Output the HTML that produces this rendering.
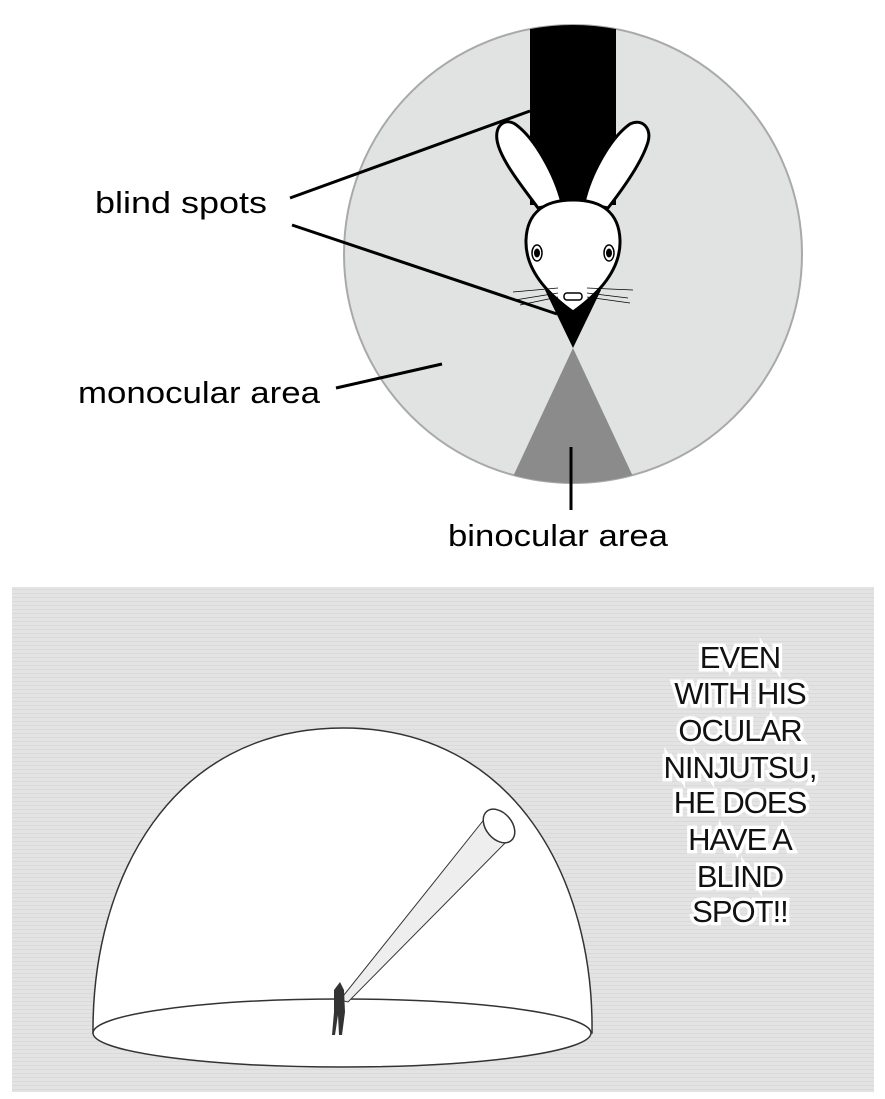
<!DOCTYPE html>
<html><head><meta charset="utf-8"><style>
html,body{margin:0;padding:0;background:#fff;}
svg{display:block;}
</style></head><body>
<svg width="885" height="1099" viewBox="0 0 885 1099" xmlns="http://www.w3.org/2000/svg">
<defs>
<clipPath id="cc"><circle cx="573" cy="254" r="229"/></clipPath>
<pattern id="noise" width="6" height="4" patternUnits="userSpaceOnUse">
<rect width="6" height="4" fill="#e3e3e3"/>
<rect x="0" y="1" width="6" height="1" fill="#dadada"/>
</pattern>
</defs>
<!-- circle diagram -->
<circle cx="573" cy="254" r="229" fill="#e1e2e2" stroke="#a9a9a9" stroke-width="2"/>
<g clip-path="url(#cc)">
<rect x="530" y="20" width="86" height="185" fill="#000"/>
<polygon points="573,348 474,560 672,560" fill="#8b8b8b"/>
</g>
<polygon points="545,290 601,290 573,348" fill="#000"/>
<!-- rabbit -->
<g stroke="#000" stroke-width="3" fill="#fff" stroke-linejoin="round">
<path d="M538,208 C525,190 500,160 497,140 C495,125 505,118 515,124 C535,138 555,175 562,203 Z"/>
<path d="M584,203 C590,175 610,138 630,124 C642,118 652,128 648,142 C642,162 622,190 608,208 Z"/>
<path d="M573,200 C545,200 527,212 526,240 C525,268 545,292 573,312 C601,292 621,268 620,240 C619,212 601,200 573,200 Z"/>
</g>
<ellipse cx="537" cy="253" rx="5" ry="8" fill="#fff" stroke="#000" stroke-width="1.5"/>
<ellipse cx="537" cy="253" rx="3" ry="4.5" fill="#000"/>
<ellipse cx="609" cy="253" rx="5" ry="8" fill="#fff" stroke="#000" stroke-width="1.5"/>
<ellipse cx="609" cy="253" rx="3" ry="4.5" fill="#000"/>
<rect x="564" y="293" width="18" height="7" rx="3" fill="#fff" stroke="#000" stroke-width="1.5"/>
<g stroke="#000" stroke-width="0.8">
<line x1="513" y1="292" x2="558" y2="288"/><line x1="515" y1="300" x2="558" y2="293"/><line x1="520" y1="305" x2="558" y2="297"/>
<line x1="587" y1="288" x2="633" y2="290"/><line x1="587" y1="293" x2="628" y2="298"/><line x1="587" y1="297" x2="630" y2="303"/>
</g>
<!-- leader lines -->
<g stroke="#000" stroke-width="3">
<line x1="290" y1="198" x2="530" y2="111"/>
<line x1="292" y1="225" x2="557" y2="314"/>
<line x1="336" y1="388" x2="442" y2="364"/>
<line x1="571" y1="447" x2="571" y2="510"/>
</g>
<g font-family="Liberation Sans, sans-serif" font-size="31" fill="#000">
<text x="95" y="213" textLength="172" lengthAdjust="spacingAndGlyphs">blind spots</text>
<text x="78" y="403" textLength="242" lengthAdjust="spacingAndGlyphs">monocular area</text>
<text x="448" y="546" textLength="220" lengthAdjust="spacingAndGlyphs">binocular area</text>
</g>
<!-- manga panel -->
<rect x="12" y="587" width="862" height="505" fill="url(#noise)"/>
<path d="M93,1033 C92,880 170,728 343,728 C515,728 594,880 592,1033 Z" fill="#fff" stroke="#333" stroke-width="1.5"/>
<ellipse cx="342" cy="1033" rx="249" ry="34" fill="#fff" stroke="#333" stroke-width="1.5"/>
<polygon points="340,1000 348,1002 512,836 486,817" fill="#eee" stroke="#333" stroke-width="1"/>
<ellipse cx="499" cy="826" rx="13" ry="19" transform="rotate(-40 499 826)" fill="#fff" stroke="#333" stroke-width="1.5"/>
<path d="M334,990 L340,982 L344,990 L345,1012 L342,1035 L339,1035 L338,1015 L335,1035 L332,1035 L334,1012 Z" fill="#333"/>
<g font-family="Liberation Sans, sans-serif" font-size="31" fill="#111" text-anchor="middle" stroke="#fff" stroke-width="7" paint-order="stroke" letter-spacing="-1">
<text x="740" y="668">EVEN</text>
<text x="740" y="704">WITH HIS</text>
<text x="740" y="741">OCULAR</text>
<text x="740" y="778">NINJUTSU,</text>
<text x="740" y="813">HE DOES</text>
<text x="740" y="850">HAVE A</text>
<text x="740" y="887">BLIND</text>
<text x="740" y="922">SPOT!!</text>
</g>
</svg>
</body></html>
